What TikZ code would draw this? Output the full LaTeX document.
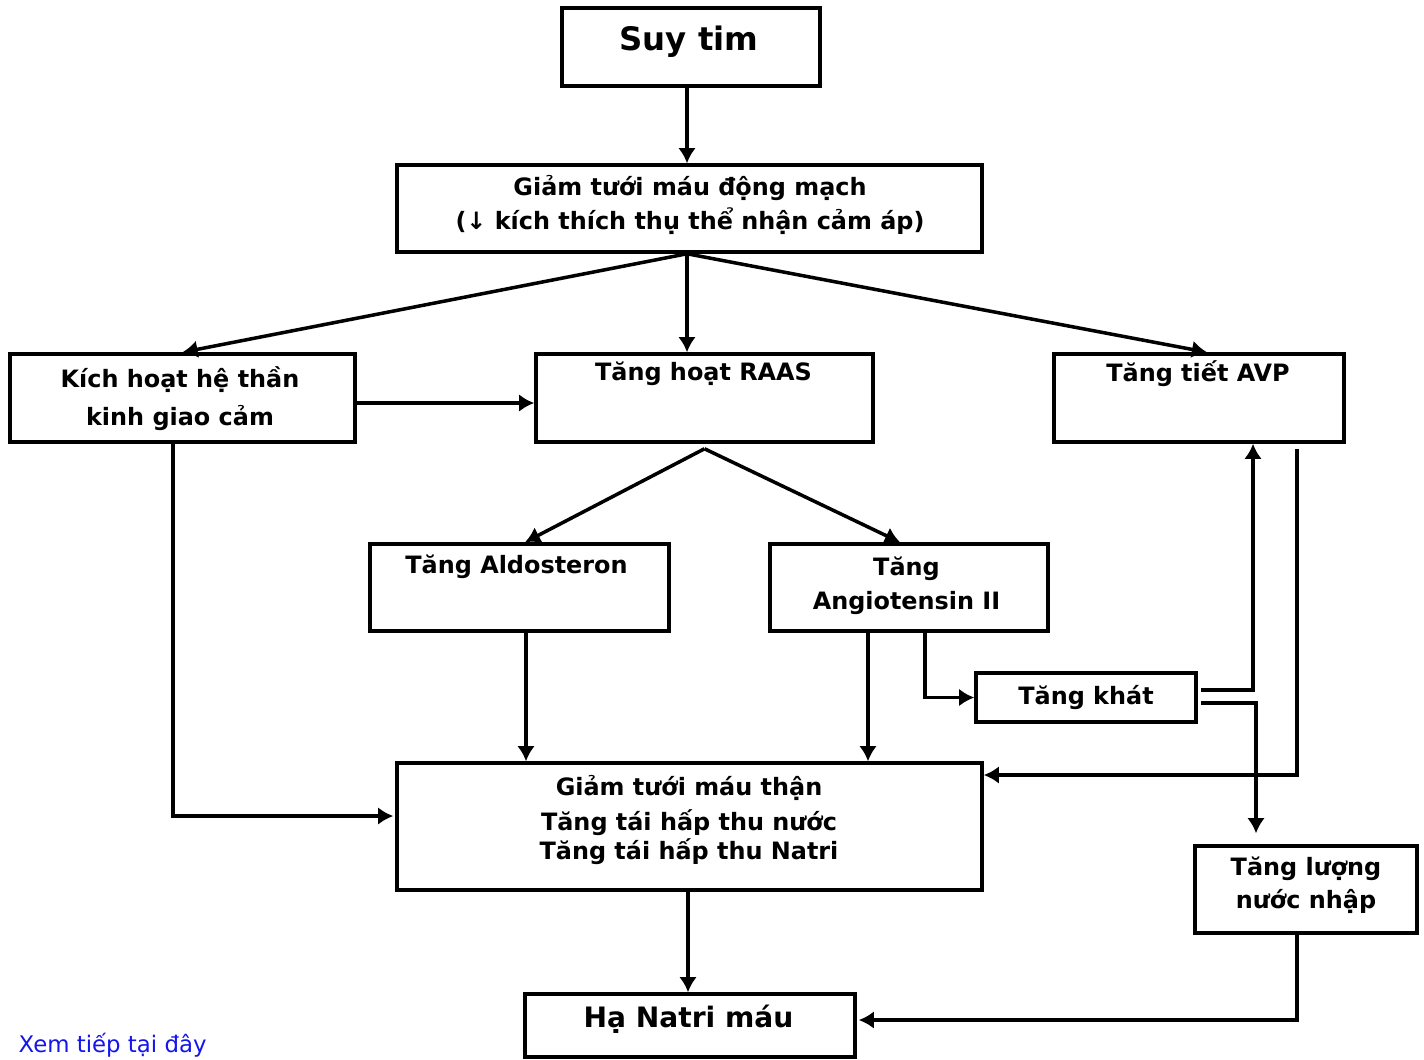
\documentclass[tikz,border=0pt]{standalone}
\usepackage{fontspec}
\setmainfont{DejaVu Sans}
\usepackage{tikz}
\usetikzlibrary{arrows.meta}
\tikzset{>={Latex[length=4.3pt,width=5pt]}}
\definecolor{linkblue}{RGB}{20,20,235}
\tikzset{
  box/.style 2 args={draw, line width=1pt, minimum width=#1cm, minimum height=#2cm, inner sep=0pt},
  txt/.style={font=\bfseries\fontsize{6.8}{8.3}\selectfont, align=center, inner sep=0pt},
  arr/.style={->, line width=1pt}
}

\begin{document}
\begin{tikzpicture}[y=-1cm]
            \useasboundingbox (0,0) rectangle (14.24,10.59);

            % boxes
            \node[box={2.58}{0.78}] (suy) at (6.91,0.47) {};
            \node[box={5.85}{0.87}] (gtm) at (6.895,2.085) {};
            \node[box={3.45}{0.88}] (kich) at (1.825,3.98) {};
            \node[box={3.37}{0.88}] (raas) at (7.045,3.98) {};
            \node[box={2.90}{0.88}] (avp) at (11.99,3.98) {};
            \node[box={2.99}{0.87}] (aldo) at (5.195,5.875) {};
            \node[box={2.78}{0.87}] (angio) at (9.09,5.875) {};
            \node[box={2.20}{0.49}] (khat) at (10.86,6.975) {};
            \node[box={5.85}{1.27}] (than) at (6.895,8.265) {};
            \node[box={2.22}{0.87}] (nhap) at (13.06,8.895) {};
            \node[box={3.30}{0.63}] (hana) at (6.90,10.255) {};

            % texts
            \node[txt, font=\bfseries\fontsize{9.2}{11}\selectfont] (suy-t) at (6.89,0.42) {Suy tim};
            \node[txt] (gtm-t) at (6.90,2.05) {Giảm tưới máu động mạch\\[1.4pt](↓ kích thích thụ thể nhận cảm áp)};
            \node[txt] (kich-t) at (1.80,3.985) {Kích hoạt hệ thần\\[2.5pt]kinh giao cảm};
            \node[txt] (raas-t) at (7.035,3.74) {Tăng hoạt RAAS};
            \node[txt] (avp-t) at (11.98,3.74) {Tăng tiết AVP};
            \node[txt] (aldo-t) at (5.165,5.67) {Tăng Aldosteron};
            \node[txt] (angio-t) at (9.065,5.855) {Tăng\\[1.4pt]Angiotensin II};
            \node[txt] (khat-t) at (10.86,6.98) {Tăng khát};
            \node[txt] (than-t) at (6.89,8.20) {Giảm tưới máu thận\\[1.7pt]Tăng tái hấp thu nước\\Tăng tái hấp thu Natri};
            \node[txt] (nhap-t) at (13.06,8.855) {Tăng lượng\\[1.1pt]nước nhập};
            \node[txt, font=\bfseries\fontsize{8}{10}\selectfont] (hana-t) at (6.885,10.19) {Hạ Natri máu};
            \node[anchor=base west, inner sep=0pt, text=linkblue, font=\fontsize{6.5}{8}\selectfont] (more) at (0.18,10.52) {Xem tiếp tại đây};

            \coordinate (fan) at ([xshift=-0.025cm]gtm.south);
            \coordinate (split) at ([yshift=-0.05cm]raas.south);

            \draw[arr] ([xshift=-0.04cm]suy.south) -- ([xshift=-0.04cm]suy.south |- gtm.north);
            \draw[arr] (fan) -- (kich.north);
            \draw[arr] (fan) -- (fan |- raas.north);
            \draw[arr] (fan) -- ([xshift=0.08cm]avp.north);
            \draw[arr] ([yshift=-0.05cm]kich.east) -- ([yshift=-0.05cm]raas.west);
            \draw[arr] (split) -- ([xshift=0.055cm]aldo.north);
            \draw[arr] (split) -- ([xshift=-0.09cm]angio.north);
            \draw[arr] ([xshift=0.065cm]aldo.south) -- ([xshift=0.065cm]aldo.south |- than.north);
            \draw[arr] ([xshift=-0.41cm]angio.south) -- ([xshift=-0.41cm]angio.south |- than.north);
            \draw[arr] ([xshift=0.16cm]angio.south) |- (khat.west);
            \draw[arr] ([xshift=0.03cm,yshift=0.075cm]khat.east) -| ([xshift=0.54cm]avp.south);
            \draw[arr] ([xshift=0.03cm,yshift=-0.055cm]khat.east) -| ([xshift=-0.50cm,yshift=0.11cm]nhap.north);
            \draw[arr] ([xshift=0.98cm,yshift=-0.05cm]avp.south) |- ([yshift=0.515cm]than.east);
            \draw[arr] ([xshift=-0.095cm]kich.south) |- ([xshift=-0.02cm,yshift=0.105cm]than.west);
            \draw[arr] ([xshift=-0.015cm]than.south) -- ([xshift=-0.015cm]than.south |- hana.north);
            \draw[arr] ([xshift=-0.09cm]nhap.south) |- ([xshift=0.02cm,yshift=0.055cm]hana.east);

        \end{tikzpicture}
\end{document}
